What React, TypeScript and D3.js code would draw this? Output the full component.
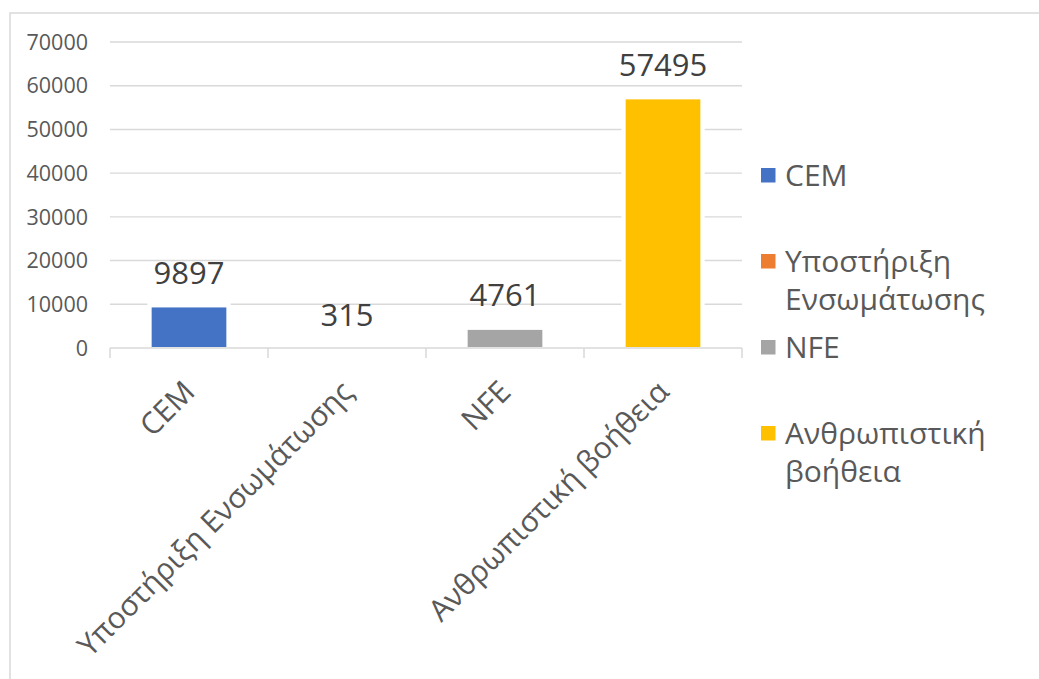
import React from "react";
import * as d3 from "d3";

const categories = ["CEM", "Υποστήριξη Ενσωμάτωσης", "NFE", "Ανθρωπιστική βοήθεια"];
const values = [9897, 315, 4761, 57495];
const colors = ["#4472C4", "#ED7D31", "#A5A5A5", "#FFC000"];
const yTicks = [0, 10000, 20000, 30000, 40000, 50000, 60000, 70000];

const W = 1039;
const H = 679;
const FONT = "'Open Sans', 'Noto Sans', sans-serif";

export default function App() {
  const plot = { left: 110, right: 742, top: 42, bottom: 348 };
  const x = d3.scaleBand<string>().domain(categories).range([plot.left, plot.right]).padding(0);
  const y = d3.scaleLinear().domain([0, 70000]).range([plot.bottom, plot.top]);
  const bw = x.bandwidth() * 0.507;
  const inset = 2.7;
  const gap = 4.3;

  const boundaries = [...categories.map((c) => x(c) as number), plot.right];

  return (
    <svg
      width={W}
      height={H}
      style={{ position: "absolute", left: 0, top: 0, background: "#fff" }}
      fontFamily={FONT}
    >
      <rect x={0} y={0} width={W} height={H} fill="#fff" />
      <rect x={10} y={13} width={1040} height={720} fill="none" stroke="#D9D9D9" strokeWidth={1.5} />

      {/* gridlines */}
      {yTicks.filter((t) => t > 0).map((t) => (
        <line key={t} x1={plot.left} x2={plot.right} y1={y(t)} y2={y(t)} stroke="#D9D9D9" strokeWidth={1.4} />
      ))}

      {/* y labels */}
      {yTicks.map((t) => (
        <text key={t} x={88} y={y(t)} dy="0.36em" textAnchor="end" fontSize={21.5} fill="#595959">
          {t}
        </text>
      ))}

      {/* bars */}
      {categories.map((c, i) => {
        const cx = (x(c) as number) + x.bandwidth() / 2;
        const x0 = cx - bw / 2;
        const top = y(values[i]);
        const h = plot.bottom - top;
        return (
          <g key={c}>
            <rect x={x0 - gap + inset} y={top - inset} width={bw + 2 * (gap - inset)} height={h + inset} fill="#fff" />
            {h - inset > 1 && (
              <rect x={x0 + inset} y={top + inset} width={bw - 2 * inset} height={h - inset - 1} fill={colors[i]} />
            )}
          </g>
        );
      })}

      {/* x axis */}
      <line x1={plot.left} x2={plot.right} y1={plot.bottom} y2={plot.bottom} stroke="#D9D9D9" strokeWidth={1.5} />
      {boundaries.map((b, i) => (
        <line key={i} x1={b} x2={b} y1={plot.bottom} y2={plot.bottom + 10} stroke="#D9D9D9" strokeWidth={1.5} />
      ))}

      {/* data labels */}
      {categories.map((c, i) => (
        <text
          key={c}
          x={(x(c) as number) + x.bandwidth() / 2}
          y={y(values[i]) - 21}
          textAnchor="middle"
          fontSize={31}
          fill="#404040"
        >
          {values[i]}
        </text>
      ))}

      {/* category labels */}
      {categories.map((c) => {
        const cx = (x(c) as number) + x.bandwidth() / 2;
        return (
          <text
            key={c}
            transform={`translate(${cx},${plot.bottom + 38}) rotate(-45)`}
            textAnchor="end"
            dy="0.36em"
            fontSize={30}
            fill="#595959"
          >
            {c}
          </text>
        );
      })}

      {/* legend */}
      {categories.map((c, i) => {
        const cy = 175 + i * 86;
        const lines = c.split(" ");
        return (
          <g key={c}>
            <rect x={761} y={cy - 7} width={14.5} height={14.5} fill={colors[i]} />
            {lines.map((ln, j) => (
              <text key={j} x={785} y={cy + 11 + j * 37.5} fontSize={30} fill="#595959">
                {ln}
              </text>
            ))}
          </g>
        );
      })}
    </svg>
  );
}
